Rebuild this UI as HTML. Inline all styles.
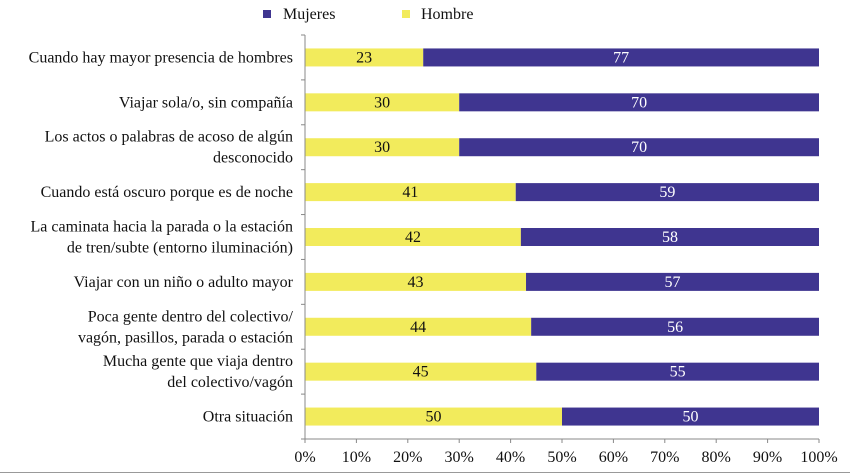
<!DOCTYPE html>
<html><head><meta charset="utf-8"><style>
body{margin:0;background:#fff}
svg{display:block;font-family:"Liberation Serif",serif}
</style></head><body>
<svg id="chart" width="850" height="474">
<rect x="0" y="0" width="850" height="474" fill="#fff"/>
<line x1="0" y1="472.5" x2="850" y2="472.5" stroke="#999" stroke-width="1"/>
<g>
 <g><rect x="263" y="10" width="8" height="8" fill="#3F3590"/><text x="283" y="19" font-size="16" fill="#111">Mujeres</text></g>
 <g><rect x="402" y="10" width="8" height="8" fill="#F2EB5C"/><text x="421" y="19" font-size="16" fill="#111">Hombre</text></g>
</g>
<g id="plot"></g>
</svg>
<script>
const categories=[["Cuando hay mayor presencia de hombres"],["Viajar sola/o, sin compañía"],["Los actos o palabras de acoso de algún","desconocido"],["Cuando está oscuro porque es de noche"],["La caminata hacia la parada o la estación","de tren/subte (entorno iluminación)"],["Viajar con un niño o adulto mayor"],["Poca gente dentro del colectivo/","vagón, pasillos, parada o estación"],["Mucha gente que viaja dentro","del colectivo/vagón"],["Otra situación"]];
const hombre=[23,30,30,41,42,43,44,45,50];
const mujeres=[77,70,70,59,58,57,56,55,50];
const ticks=[0,10,20,30,40,50,60,70,80,90,100];
const NS="http://www.w3.org/2000/svg";
const g=document.getElementById('plot');
const X0=305,X1=819,Y0=35,Y1=439,barH=18;
const band=(Y1-Y0)/categories.length;
const xs=v=>X0+(X1-X0)*v/100;
const yc=i=>Y0+band*(i+0.5);
function mk(t,a){const e=document.createElementNS(NS,t);for(const k in a)e.setAttribute(k,a[k]);g.appendChild(e);return e;}
categories.forEach((lines,i)=>{
 const c=yc(i);
 const h=mk('rect',{x:xs(0),y:c-barH/2,width:xs(hombre[i])-xs(0),height:barH,fill:'#F2EB5C'});
 
 
 const m=mk('rect',{x:xs(hombre[i]),y:c-barH/2,width:xs(hombre[i]+mujeres[i])-xs(hombre[i]),height:barH,fill:'#3F3590'});
 
 
 const t1=mk('text',{x:(xs(0)+xs(hombre[i]))/2,y:c+5,'font-size':16,'text-anchor':'middle',fill:'#111'});t1.textContent=hombre[i];
 
 
 const t2=mk('text',{x:(xs(hombre[i])+xs(100))/2,y:c+5,'font-size':16,'text-anchor':'middle',fill:'#fff'});t2.textContent=mujeres[i];
 
 
 const n=lines.length;
 lines.forEach((l,j)=>{
  const t=mk('text',{x:293,y:c+5+(j-(n-1)/2)*21,'font-size':16,'text-anchor':'end',fill:'#111'});t.textContent=l;
  
  
 });
});
for(let i=0;i<=categories.length;i++){const y=Y0+band*i;const tk=mk('line',{x1:X0-4,x2:X0,y1:y,y2:y,stroke:'#888'});
 
 }
const ya=mk('line',{x1:X0,x2:X0,y1:Y0,y2:Y1,stroke:'#888'});


const xa=mk('line',{x1:X0,x2:X1,y1:Y1,y2:Y1,stroke:'#888'});


ticks.forEach(v=>{
 const l=mk('line',{x1:xs(v),x2:xs(v),y1:Y1,y2:Y1+4,stroke:'#888'});
 
 
 const t=mk('text',{x:xs(v),y:462,'font-size':16,'text-anchor':'middle',fill:'#111'});t.textContent=v+'%';
 
 
});
</script>
</body></html>
